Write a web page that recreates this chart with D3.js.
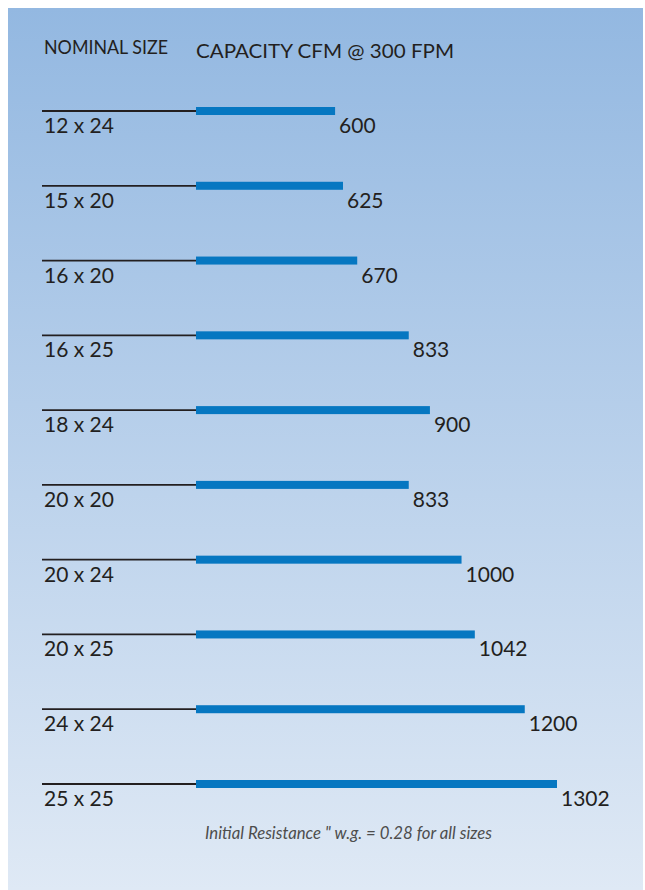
<!DOCTYPE html>
<html>
<head>
<meta charset="utf-8">
<script src="https://cdn.jsdelivr.net/npm/d3@7"></script>
<style>
    body { margin: 0; background: #ffffff; }
    svg { display: block; }
    text { font-family: Lato, "Open Sans", sans-serif; fill: #231f20; }
</style>
</head>
<body>
<div id="chart"></div>
<script>
// chart data
var sizes = ["12 x 24", "15 x 20", "16 x 20", "16 x 25", "18 x 24",
             "20 x 20", "20 x 24", "20 x 25", "24 x 24", "25 x 25"];
var capacity = [600, 625, 670, 833, 900, 833, 1000, 1042, 1200, 1302];
var headers = ["NOMINAL SIZE", "CAPACITY CFM @ 300 FPM"];
var footnote = "Initial Resistance \" w.g. = 0.28 for all sizes";

function init() {
    var w = 645;
    var h = 890;

    var svg = d3.select("#chart")
        .append("svg")
        .attr("width", w)
        .attr("height", h);

    // background gradient panel
    var grad = svg.append("defs")
        .append("linearGradient")
        .attr("id", "bg")
        .attr("x1", 0).attr("y1", 0)
        .attr("x2", 0).attr("y2", 1);
    grad.append("stop").attr("offset", "0%").attr("stop-color", "#93b8e1");
    grad.append("stop").attr("offset", "100%").attr("stop-color", "#dfe9f5");

    svg.append("rect")
        .attr("x", 8)
        .attr("y", 8)
        .attr("width", 635)
        .attr("height", h - 8)
        .attr("fill", "url(#bg)");

    // scales
    var yScale = d3.scalePoint()
        .domain(sizes)
        .range([111, 784]);

    var xScale = d3.scaleLinear()
        .domain([160, 1302])
        .range([196, 557]);

    // headers
    svg.append("text")
        .attr("x", 44)
        .attr("y", 54)
        .attr("textLength", 124)
        .attr("lengthAdjust", "spacingAndGlyphs")
        .style("font-size", "19px")
        .text(headers[0]);

    svg.append("text")
        .attr("x", 196)
        .attr("y", 58)
        .attr("textLength", 258)
        .attr("lengthAdjust", "spacingAndGlyphs")
        .style("font-size", "19.5px")
        .text(headers[1]);

    var rows = svg.selectAll(".row")
        .data(sizes)
        .enter()
        .append("g")
        .attr("class", "row")
        .attr("transform", function(d) {
            return "translate(0," + yScale(d) + ")";
        });

    // thin black rule under the size label
    rows.append("line")
        .attr("x1", 42)
        .attr("x2", xScale.range()[0])
        .attr("y1", 0)
        .attr("y2", 0)
        .attr("stroke", "#231f20")
        .attr("stroke-width", 1.8);

    // capacity bar
    rows.append("rect")
        .attr("x", xScale.range()[0])
        .attr("y", -4)
        .attr("height", 8)
        .attr("width", function(d, i) {
            return xScale(capacity[i]) - xScale.range()[0];
        })
        .attr("fill", "#0677c1");

    // size label
    rows.append("text")
        .attr("x", 44)
        .attr("y", 22)
        .style("font-size", "21px")
        .text(function(d) { return d; });

    // value label
    rows.append("text")
        .attr("x", function(d, i) {
            return xScale(capacity[i]) + 4;
        })
        .attr("y", 22)
        .style("font-size", "21px")
        .text(function(d, i) { return capacity[i]; });

    // footnote
    svg.append("text")
        .attr("x", 205)
        .attr("y", 839)
        .attr("textLength", 287)
        .attr("lengthAdjust", "spacingAndGlyphs")
        .style("font-size", "16.5px")
        .style("font-style", "italic")
        .style("font-weight", 400)
        .style("fill", "#4d4d4d")
        .text(footnote);
}

window.onload = init;
</script>
</body>
</html>
